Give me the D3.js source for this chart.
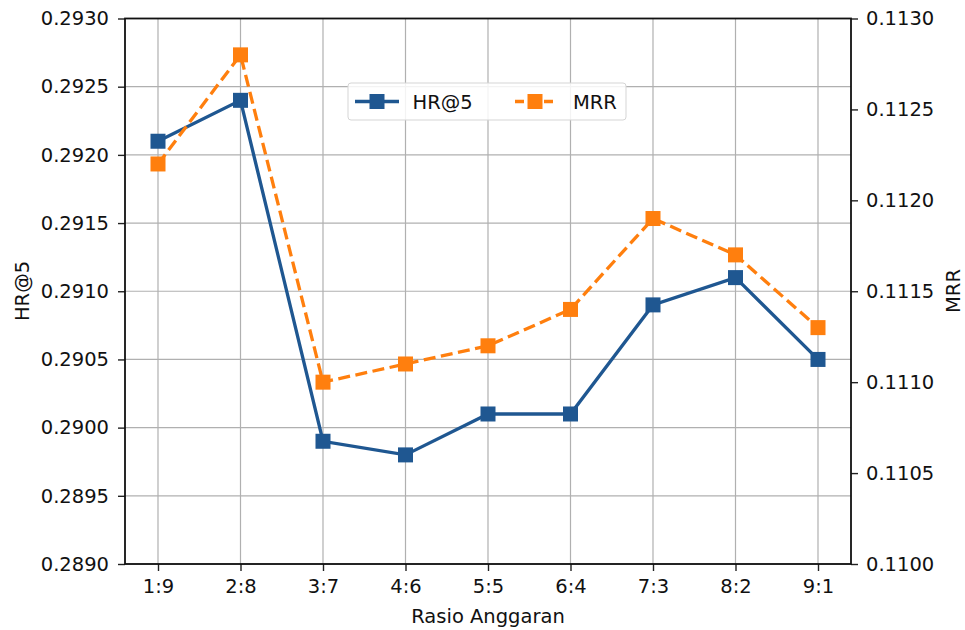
<!DOCTYPE html>
<html><head><meta charset="utf-8">
<script src="https://cdn.jsdelivr.net/npm/d3@7"></script>
<style>body{margin:0;background:#fff;} svg{display:block;} text{font-family:"DejaVu Sans",sans-serif;}</style>
</head><body>
<svg id="c" width="965" height="630"></svg>
<script>
const categories = ["1:9","2:8","3:7","4:6","5:5","6:4","7:3","8:2","9:1"];
const hrValues = [0.2921,0.2924,0.2899,0.2898,0.2901,0.2901,0.2909,0.2911,0.2905];
const mrrValues = [0.1122,0.1128,0.1110,0.1111,0.1112,0.1114,0.1119,0.1117,0.1113];
const leftTicks = [0.2890,0.2895,0.2900,0.2905,0.2910,0.2915,0.2920,0.2925,0.2930];
const rightTicks = [0.1100,0.1105,0.1110,0.1115,0.1120,0.1125,0.1130];

const L=125, R=851, T=18.5, B=564;
const blue="#1f5791", orange="#ff7f0e";
const FS=19.5;
const svg=d3.select("#c");

const x=d3.scalePoint().domain(categories).range([L,R]).padding(0.4);
const yL=d3.scaleLinear().domain([0.2890,0.2930]).range([B,T]);
const yR=d3.scaleLinear().domain([0.1100,0.1130]).range([B,T]);

// grid
const g=svg.append("g");
g.selectAll(".vg").data(categories).enter().append("line")
 .attr("x1",d=>x(d)).attr("x2",d=>x(d)).attr("y1",T).attr("y2",B)
 .attr("stroke","#b0b0b0").attr("stroke-width",1.2);
g.selectAll(".hg").data(leftTicks).enter().append("line")
 .attr("x1",L).attr("x2",R).attr("y1",d=>yL(d)).attr("y2",d=>yL(d))
 .attr("stroke","#b0b0b0").attr("stroke-width",1.2);

// lines
const lineH=d3.line().x((d,i)=>x(categories[i])).y(d=>yL(d));
const lineM=d3.line().x((d,i)=>x(categories[i])).y(d=>yR(d));
svg.append("path").attr("d",lineH(hrValues)).attr("fill","none").attr("stroke",blue).attr("stroke-width",3.3);
svg.append("path").attr("d",lineM(mrrValues)).attr("fill","none").attr("stroke",orange).attr("stroke-width",3.3).attr("stroke-dasharray","12,5.5");
const ms=15;
svg.selectAll(".mh").data(hrValues).enter().append("rect")
 .attr("x",(d,i)=>x(categories[i])-ms/2).attr("y",d=>yL(d)-ms/2).attr("width",ms).attr("height",ms).attr("fill",blue);
svg.selectAll(".mm").data(mrrValues).enter().append("rect")
 .attr("x",(d,i)=>x(categories[i])-ms/2).attr("y",d=>yR(d)-ms/2).attr("width",ms).attr("height",ms).attr("fill",orange);

// axes
const fmt=d3.format(".4f");
const axL=svg.append("g").attr("transform",`translate(${L},0)`).call(d3.axisLeft(yL).tickValues(leftTicks).tickFormat(fmt).tickSize(7).tickPadding(9));
const axR=svg.append("g").attr("transform",`translate(${R},0)`).call(d3.axisRight(yR).tickValues(rightTicks).tickFormat(fmt).tickSize(7).tickPadding(8));
const axB=svg.append("g").attr("transform",`translate(0,${B})`).call(d3.axisBottom(x).tickSize(7).tickPadding(8));
[axL,axR,axB].forEach(a=>{a.selectAll("text").attr("font-size",FS).attr("fill","#111").attr("font-family","DejaVu Sans");
 a.selectAll("line").attr("stroke","#222").attr("stroke-width",1.4);
 a.select(".domain").remove();});
// frame
svg.append("rect").attr("x",L).attr("y",T).attr("width",R-L).attr("height",B-T).attr("fill","none").attr("stroke","#111").attr("stroke-width",1.8);

// axis labels
svg.append("text").attr("x",(L+R)/2).attr("y",623).attr("text-anchor","middle").attr("font-size",FS).attr("fill","#111").text("Rasio Anggaran");
svg.append("text").attr("transform","translate(29,291) rotate(-90)").attr("text-anchor","middle").attr("font-size",FS).attr("fill","#111").text("HR@5");
svg.append("text").attr("transform","translate(960,291) rotate(-90)").attr("text-anchor","middle").attr("font-size",FS).attr("fill","#111").text("MRR");

// legend
const lg=svg.append("g").attr("transform","translate(348,83)");
lg.append("rect").attr("width",278).attr("height",37).attr("rx",3).attr("fill","#fff").attr("fill-opacity",0.85).attr("stroke","#d5d5d5");
lg.append("line").attr("x1",7).attr("x2",51).attr("y1",18.5).attr("y2",18.5).attr("stroke",blue).attr("stroke-width",3.3);
lg.append("rect").attr("x",21.5).attr("y",11).attr("width",15).attr("height",15).attr("fill",blue);
lg.append("text").attr("x",64.5).attr("y",25.5).attr("font-size",FS).attr("fill","#111").text("HR@5");
lg.append("line").attr("x1",167).attr("x2",209).attr("y1",18.5).attr("y2",18.5).attr("stroke",orange).attr("stroke-width",3.3).attr("stroke-dasharray","9,5.5");
lg.append("rect").attr("x",179.5).attr("y",11).attr("width",15).attr("height",15).attr("fill",orange);
lg.append("text").attr("x",225).attr("y",25.5).attr("font-size",FS).attr("fill","#111").text("MRR");
</script>
</body></html>
